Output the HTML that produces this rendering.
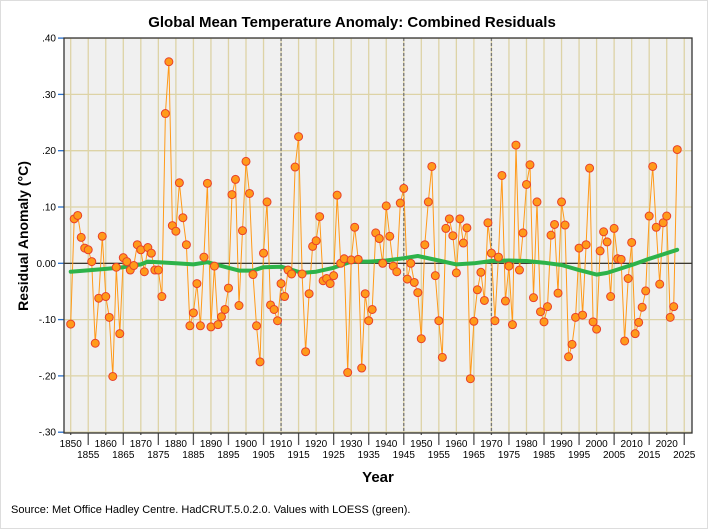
<!DOCTYPE html>
<html><head><meta charset="utf-8"><style>
body{margin:0;background:#fff;}
svg{display:block;font-family:"Liberation Sans",Arial,sans-serif;}
</style></head><body>
<svg id="chart" width="708" height="529" viewBox="0 0 708 529">
<rect x="0.5" y="0.5" width="707" height="528" fill="#fff" stroke="#ddd"/>
<text x="352" y="27" text-anchor="middle" font-size="15" font-weight="bold" fill="#000">Global Mean Temperature Anomaly: Combined Residuals</text>
<text transform="translate(28,236) rotate(-90)" text-anchor="middle" font-size="14" font-weight="bold">Residual Anomaly (°C)</text>
<text x="378" y="482" text-anchor="middle" font-size="15" font-weight="bold">Year</text>
<text x="11" y="513" font-size="11" fill="#000">Source: Met Office Hadley Centre. HadCRUT.5.0.2.0. Values with LOESS (green).</text>
<g id="plot"></g>
</svg>
<script>
const startYear = 1850;
const residuals = [-0.108,0.079,0.085,0.046,0.027,0.024,0.003,-0.142,-0.062,0.048,
-0.059,-0.096,-0.201,-0.007,-0.125,0.010,0.003,-0.012,-0.004,0.033,
0.024,-0.015,0.028,0.018,-0.012,-0.012,-0.059,0.266,0.358,0.067,
0.057,0.143,0.081,0.033,-0.111,-0.088,-0.036,-0.111,0.011,0.142,
-0.113,-0.005,-0.109,-0.095,-0.082,-0.044,0.122,0.149,-0.075,0.058,
0.181,0.124,-0.020,-0.111,-0.175,0.018,0.109,-0.074,-0.082,-0.102,
-0.036,-0.059,-0.012,-0.019,0.171,0.225,-0.019,-0.157,-0.054,0.030,
0.040,0.083,-0.031,-0.027,-0.036,-0.022,0.121,0.000,0.008,-0.194,
0.006,0.064,0.007,-0.186,-0.054,-0.102,-0.082,0.054,0.044,0.000,
0.102,0.048,-0.005,-0.015,0.107,0.133,-0.028,0.000,-0.034,-0.052,
-0.134,0.033,0.109,0.172,-0.022,-0.102,-0.167,0.062,0.079,0.049,
-0.017,0.079,0.036,0.063,-0.205,-0.103,-0.047,-0.016,-0.066,0.072,
0.018,-0.102,0.011,0.156,-0.067,-0.005,-0.109,0.210,-0.012,0.054,
0.140,0.175,-0.061,0.109,-0.086,-0.104,-0.077,0.050,0.069,-0.053,
0.109,0.068,-0.166,-0.144,-0.096,0.027,-0.092,0.033,0.169,-0.104,
-0.117,0.022,0.056,0.038,-0.059,0.062,0.008,0.007,-0.138,-0.027,
0.037,-0.125,-0.105,-0.078,-0.049,0.084,0.172,0.064,-0.037,0.072,
0.084,-0.096,-0.077,0.202];
const loessYears = [1850,1860,1865,1870,1872,1880,1885,1889,1895,1898,1902,1905,1910,1916,1920,1925,1930,1935,1940,1945,1949,1955,1960,1965,1970,1975,1980,1985,1990,1995,2000,2003,2010,2015,2023];
const loessValues = [-0.015,-0.010,-0.007,-0.002,0.003,0.000,-0.002,0.002,-0.008,-0.013,-0.013,-0.007,-0.006,-0.017,-0.015,-0.008,0.003,0.003,0.005,0.009,0.013,0.005,-0.002,0.000,0.004,0.005,0.004,0.001,-0.003,-0.012,-0.020,-0.017,-0.003,0.008,0.024];
const yTicks = [0.4,0.3,0.2,0.1,0,-0.1,-0.2,-0.3];
const yTickLabels = [".40",".30",".20",".10","0.00","-.10","-.20","-.30"];
const xTicks = [1850,1855,1860,1865,1870,1875,1880,1885,1890,1895,1900,1905,1910,1915,1920,1925,1930,1935,1940,1945,1950,1955,1960,1965,1970,1975,1980,1985,1990,1995,2000,2005,2010,2015,2020,2025];
const markerYears = [1910,1945,1970];

const NS="http://www.w3.org/2000/svg";
const L=64,R=692,T=38,B=433;
const xs=y=>70.7+(y-1850)*3.506;
const ys=v=>263.3-v*563;
const g=document.getElementById('plot');
function mk(tag,attrs,parent){const e=document.createElementNS(NS,tag);for(const k in attrs)e.setAttribute(k,attrs[k]);(parent||g).appendChild(e);return e;}

const bg=mk('rect',{x:L,y:T,width:R-L,height:B-T,fill:'#f0f0f0'});



xTicks.forEach(t=>{
  const gl=mk('line',{x1:xs(t),x2:xs(t),y1:T,y2:B,stroke:'#ddd3a6','stroke-width':1.3});
  
  
  const odd=(t%10)!==0;
  const tk=mk('line',{x1:xs(t),x2:xs(t),y1:B,y2:odd?B+12:B+2,stroke:'#555','stroke-width':1.3});
  
  
  const lb=mk('text',{x:xs(t),y:odd?B+25:B+14,'text-anchor':'middle','font-size':10,fill:'#000'});
  lb.textContent=t;
  
  
});
yTicks.forEach((t,i)=>{
  const gl=mk('line',{x1:L,x2:R,y1:ys(t),y2:ys(t),stroke:'#ddd3a6','stroke-width':1.3});
  
  
  const tk=mk('line',{x1:L-6,x2:L,y1:ys(t),y2:ys(t),stroke:'#2a6fc9','stroke-width':1.3});
  
  
  const lb=mk('text',{x:L-8,y:ys(t)+3.5,'text-anchor':'end','font-size':10,fill:'#000'});
  lb.textContent=yTickLabels[i];
  
  
});
markerYears.forEach(t=>{
  const d=mk('line',{x1:xs(t),x2:xs(t),y1:T,y2:B,stroke:'#777','stroke-width':1.3,'stroke-dasharray':'3,2'});
  
  
});
const zl=mk('line',{x1:L,x2:R,y1:ys(0),y2:ys(0),stroke:'#222','stroke-width':1.2});



const pts=residuals.map((v,i)=>xs(startYear+i).toFixed(1)+','+ys(v).toFixed(1)).join(' ');
const ln=mk('polyline',{points:pts,fill:'none',stroke:'#ff9a1a','stroke-width':1});



const lp=loessYears.map((y,i)=>xs(y).toFixed(1)+','+ys(loessValues[i]).toFixed(1)).join(' ');
const lo=mk('polyline',{points:lp,fill:'none',stroke:'#2db34a','stroke-width':4,'stroke-linejoin':'round','stroke-linecap':'round'});



residuals.forEach((v,i)=>{
  const c=mk('circle',{cx:xs(startYear+i),cy:ys(v),r:4,fill:'#ff9a1a',stroke:'#e8402a','stroke-width':1});
  
  
});

const fr=mk('rect',{x:L,y:T,width:R-L,height:B-T,fill:'none',stroke:'#333','stroke-width':1.3});


</script>
</body></html>
